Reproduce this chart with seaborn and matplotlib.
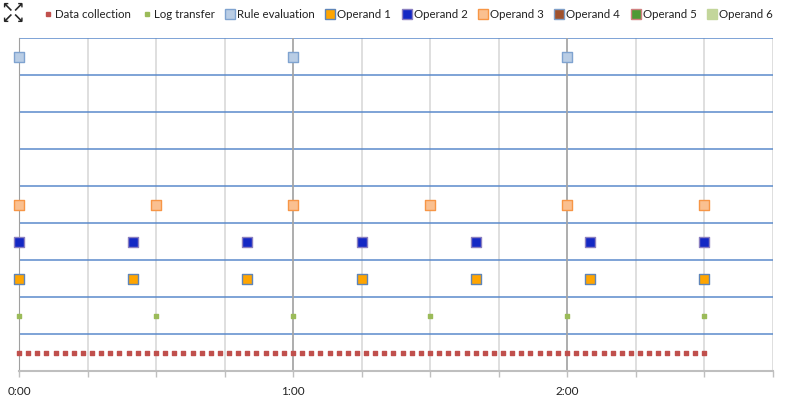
import pandas as pd
import matplotlib.pyplot as plt
import seaborn as sns
from matplotlib.lines import Line2D

# -----------------------------
# Data (times in minutes after 0:00)
# -----------------------------
data_collection = [0, 2, 4, 6, 8, 10, 12, 14, 16, 18, 20, 22, 24, 26, 28,
                   30, 32, 34, 36, 38, 40, 42, 44, 46, 48, 50, 52, 54, 56, 58,
                   60, 62, 64, 66, 68, 70, 72, 74, 76, 78, 80, 82, 84, 86, 88,
                   90, 92, 94, 96, 98, 100, 102, 104, 106, 108, 110, 112, 114,
                   116, 118, 120, 122, 124, 126, 128, 130, 132, 134, 136, 138,
                   140, 142, 144, 146, 148, 150]
log_transfer = [0, 30, 60, 90, 120, 150]
rule_evaluation = [0, 60, 120]
operand_1 = [0, 25, 50, 75, 100, 125, 150]
operand_2 = [0, 25, 50, 75, 100, 125, 150]
operand_3 = [0, 30, 60, 90, 120, 150]
operand_4 = []
operand_5 = []
operand_6 = []

series_names = ["Data collection", "Log transfer", "Rule evaluation",
                "Operand 1", "Operand 2", "Operand 3",
                "Operand 4", "Operand 5", "Operand 6"]
series_times = [data_collection, log_transfer, rule_evaluation,
                operand_1, operand_2, operand_3,
                operand_4, operand_5, operand_6]
# lane (y value) of each series
series_lanes = [0.5, 1.5, 8.5, 2.5, 3.5, 4.5, 5.5, 6.5, 7.5]

hour_ticks = [0, 60, 120]
hour_labels = ["0:00", "1:00", "2:00"]

# marker styles: face colour, edge colour, size
styles = {
    "Data collection": ("#C0504D", "#C0504D", 7),
    "Log transfer": ("#9BBB59", "#9BBB59", 7),
    "Rule evaluation": ("#B9CDE5", "#7FA3D0", 44),
    "Operand 1": ("#FFA500", "#5F85B8", 44),
    "Operand 2": ("#1428C4", "#8A7FC0", 44),
    "Operand 3": ("#FAC090", "#F79646", 44),
    "Operand 4": ("#A0522D", "#7F9FC8", 44),
    "Operand 5": ("#4E9A35", "#D08080", 44),
    "Operand 6": ("#C3D69B", "#C3D69B", 44),
}

rows = []
for name, times, lane in zip(series_names, series_times, series_lanes):
    for t in times:
        rows.append({"minute": t, "lane": lane, "series": name})
df = pd.DataFrame(rows)

# -----------------------------
# Plot
# -----------------------------
sns.set_style("white")
plt.rcParams["font.family"] = ["Lato", "DejaVu Sans"]

fig = plt.figure(figsize=(8, 3.96), dpi=100)
ax = fig.add_axes([19 / 800, 1 - 371 / 396, (772.5 - 19) / 800, (371 - 38) / 396])

for name in series_names:
    sub = df[df["series"] == name]
    if sub.empty:
        continue
    fc, ec, s = styles[name]
    sns.scatterplot(data=sub, x="minute", y="lane", marker="s", s=s,
                    color=fc, edgecolor=ec, linewidth=1.0, ax=ax,
                    legend=False, zorder=4, clip_on=False)

ax.set_xlim(0, 165)
ax.set_ylim(0, 9)
ax.set_xlabel("")
ax.set_ylabel("")

ax.set_yticks(range(1, 10))
ax.yaxis.grid(True, color="#5B8ACB", linewidth=1.1)
ax.tick_params(axis="y", left=False, labelleft=False)

ax.set_xticks(range(0, 166, 15))
ax.set_xticklabels([hour_labels[hour_ticks.index(m)] if m in hour_ticks else ""
                    for m in range(0, 166, 15)])
ax.xaxis.grid(True, color="#D9D9D9", linewidth=1.2)
for m in hour_ticks[1:]:
    ax.axvline(m, color="#A6A6A6", linewidth=1.2, zorder=1)
ax.tick_params(axis="x", bottom=True, length=4, width=1, color="#BFBFBF",
               pad=6.5, labelsize=8.5, labelcolor="#222222")
ax.set_axisbelow(True)

for side in ["top", "right"]:
    ax.spines[side].set_visible(False)
ax.spines["left"].set_color("#A0A0A0")
ax.spines["bottom"].set_color("#BFBFBF")
ax.spines["bottom"].set_linewidth(1.5)

# legend
handles = []
for name in series_names:
    fc, ec, s = styles[name]
    ms = 3 if s < 10 else 7.5
    handles.append(Line2D([], [], marker="s", linestyle="none", markersize=ms,
                          markerfacecolor=fc, markeredgecolor=ec,
                          markeredgewidth=1.0, label=name))
fig.legend(handles=handles, loc="center", bbox_to_anchor=(0.51, 0.963),
           ncol=9, frameon=False, fontsize=8.3, handletextpad=0.15,
           columnspacing=0.9, handlelength=0.9, labelcolor="#222222",
           borderpad=0.2)

# expand icon
fig.text(0.002, 0.966, "\u2196\u2197\n\u2199\u2198", fontsize=10,
         family="DejaVu Sans", weight="bold", linespacing=0.7, va="center")

plt.savefig("out.png", dpi=100)
